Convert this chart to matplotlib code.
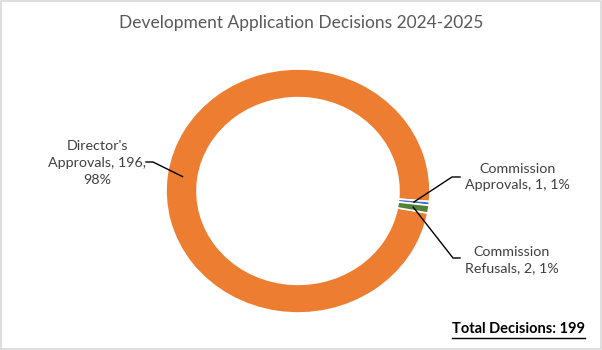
import matplotlib.pyplot as plt
from matplotlib.lines import Line2D
import numpy as np

plt.rcParams['font.family'] = ['Lato', 'DejaVu Sans']

labels = ["Director's\nApprovals, 196,\n98%", "Commission\nApprovals, 1, 1%", "Commission\nRefusals, 2, 1%"]
counts = [196, 1, 2]
colors = ['#ED7D31', '#4472C4', '#548235']
title = 'Development Application Decisions 2024-2025'
total_text = 'Total Decisions: ' + str(sum(counts))

W, H = 602, 350
fig = plt.figure(figsize=(W / 100, H / 100), dpi=100)

def fp(x, y):
    # pixel (from top-left) -> figure fraction
    return x / W, 1 - y / H

# donut axes (slightly stretched like the Excel picture)
ax = fig.add_axes([166 / W, 1 - 313 / H, 264 / W, 244 / H])
wedges, _ = ax.pie(counts, colors=colors, startangle=-10.4, counterclock=False,
                   radius=1, wedgeprops=dict(width=0.235, edgecolor='white', linewidth=1.2))
ax.set_aspect('auto')
ax.set_xlim(-1, 1)
ax.set_ylim(-1, 1)

fig.text(0.5, 1 - 23 / H, title, ha='center', va='center', fontsize=12.5, color='#595959')

# label text positions and leader elbows, in pixels
text_pos = [(97, 163), (517, 177), (512, 260)]
elbows = [[(153, 162), (146, 162)], [(452, 177), (460, 177)], [(453, 258), (460, 258)]]

for w, lab, tp, el in zip(wedges, labels, text_pos, elbows):
    mid = np.deg2rad((w.theta1 + w.theta2) / 2)
    r = 1 - 0.235 / 2
    pt = ax.transData.transform((r * np.cos(mid), r * np.sin(mid)))
    pt = fig.transFigure.inverted().transform(pt)
    xs = [pt[0]] + [fp(*p)[0] for p in el]
    ys = [pt[1]] + [fp(*p)[1] for p in el]
    fig.add_artist(Line2D(xs, ys, color='black', linewidth=1, transform=fig.transFigure))
    fig.text(*fp(*tp), lab, ha='center', va='center', fontsize=10.3, color='#404040',
             linespacing=1.45)

tt = fig.text(*fp(585, 329), total_text, ha='right', va='center', fontsize=10.5,
              fontweight='bold', color='black')
fig.canvas.draw()
bb = tt.get_window_extent(fig.canvas.get_renderer())
uy = bb.y0 - 1.5
fig.add_artist(Line2D([bb.x0 / W, bb.x1 / W], [uy / H, uy / H], color='black',
                      linewidth=1, transform=fig.transFigure))

# light frame
fig.add_artist(Line2D([0.002, 0.998, 0.998, 0.002, 0.002], [0.003, 0.003, 0.997, 0.997, 0.003],
                      color='#D9D9D9', linewidth=1.2, transform=fig.transFigure))

fig.savefig('out.png', dpi=100, facecolor='white')
